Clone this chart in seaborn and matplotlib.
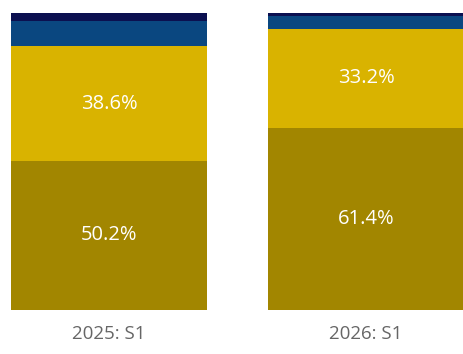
import matplotlib
matplotlib.use("Agg")
import matplotlib.pyplot as plt
import seaborn as sns
import pandas as pd
import numpy as np

categories = ["2025: S1", "2026: S1"]
segment_names = ["Olive", "Gold", "Blue", "Navy"]
olive = [50.2, 61.4]
gold = [38.6, 33.2]
blue = [8.5, 4.4]
navy = [2.7, 1.0]
colors = ["#A28600", "#D9B300", "#0A4780", "#0B1050"]
show_label = [True, True, False, False]

sns.set_theme(style="white")
plt.rcParams["font.family"] = ["Open Sans", "DejaVu Sans"]

df = pd.DataFrame({"category": categories, "Olive": olive, "Gold": gold,
                   "Blue": blue, "Navy": navy})

fig = plt.figure(figsize=(4.63, 3.54), dpi=100)
ax = fig.add_axes([0, 1 - 310 / 354, 1, 297 / 354])

bar_width = 0.763
bottom = np.zeros(len(categories))
for name, color, lab in zip(segment_names, colors, show_label):
    vals = df[name].to_numpy()
    sns.barplot(x=np.arange(len(categories)), y=vals + bottom, color=color,
                width=bar_width, ax=ax, native_scale=True, saturation=1)
    if lab:
        for i, v in enumerate(vals):
            ax.text(i, bottom[i] + v / 2, f"{v:.1f}%", ha="center", va="center",
                    color="white", fontsize=14.5)
    bottom = bottom + vals

# stacked drawing: taller cumulative bars go behind the shorter ones
for k, p in enumerate(ax.patches):
    p.set_zorder(-k)
    p.set_edgecolor("none")

ax.set_xlim(-0.424, 1.377)
ax.set_ylim(0, 100)
ax.set_xticks(range(len(categories)))
ax.set_xticklabels(categories, color="#666666", fontsize=13.5)
ax.tick_params(axis="x", length=0, pad=11)
ax.set_yticks([])
ax.set_xlabel("")
ax.set_ylabel("")
for s in ax.spines.values():
    s.set_visible(False)
ax.patch.set_alpha(0)

fig.savefig("out.png", dpi=100)
